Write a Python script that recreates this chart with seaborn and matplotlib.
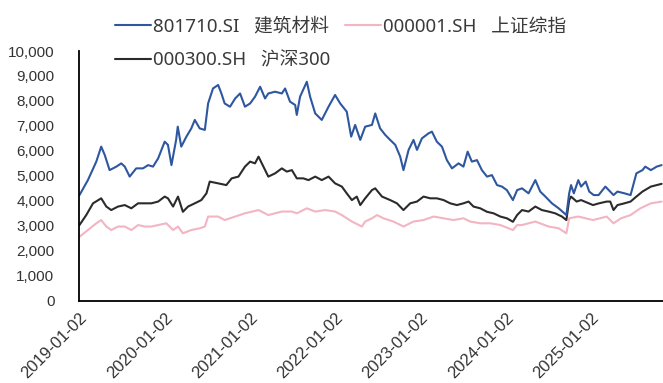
import matplotlib
matplotlib.use("Agg")
import matplotlib.pyplot as plt
from matplotlib.ticker import FuncFormatter
import pandas as pd
import seaborn as sns

# ---- series: 801710.SI 建筑材料 ----
bm_dates = [
    "2019-01-02", "2019-02-07", "2019-03-15", "2019-04-05", "2019-04-20", "2019-05-11",
    "2019-06-09", "2019-06-30", "2019-07-15", "2019-08-05", "2019-09-02", "2019-10-01",
    "2019-10-23", "2019-11-13", "2019-12-05", "2020-01-02", "2020-01-16", "2020-01-31",
    "2020-02-20", "2020-02-27", "2020-03-13", "2020-04-04", "2020-04-25", "2020-05-10",
    "2020-05-31", "2020-06-22", "2020-07-06", "2020-07-27", "2020-08-18", "2020-09-01",
    "2020-09-15", "2020-10-08", "2020-10-30", "2020-11-20", "2020-12-11", "2021-01-02",
    "2021-01-23", "2021-02-14", "2021-03-07", "2021-03-21", "2021-04-19", "2021-05-18",
    "2021-06-01", "2021-06-22", "2021-07-14", "2021-07-21", "2021-08-04", "2021-09-02",
    "2021-09-16", "2021-10-08", "2021-11-05", "2021-12-04", "2022-01-01", "2022-01-23",
    "2022-02-20", "2022-03-11", "2022-03-28", "2022-04-19", "2022-05-10", "2022-06-08",
    "2022-06-22", "2022-07-13", "2022-08-04", "2022-08-25", "2022-09-16", "2022-10-07",
    "2022-10-21", "2022-11-12", "2022-12-03", "2022-12-18", "2023-01-08", "2023-02-05",
    "2023-02-20", "2023-03-13", "2023-04-04", "2023-04-25", "2023-05-17", "2023-06-14",
    "2023-07-05", "2023-07-23", "2023-08-10", "2023-09-01", "2023-09-22", "2023-10-14",
    "2023-11-04", "2023-11-26", "2023-12-17", "2024-01-07", "2024-02-02", "2024-02-20",
    "2024-03-12", "2024-04-09", "2024-05-08", "2024-05-29", "2024-06-20", "2024-07-18",
    "2024-08-16", "2024-09-18", "2024-09-30", "2024-10-08", "2024-10-20", "2024-11-08",
    "2024-11-20", "2024-12-10", "2024-12-25", "2025-01-13", "2025-02-03", "2025-03-04",
    "2025-04-08", "2025-04-25", "2025-05-25", "2025-06-20", "2025-07-15", "2025-08-10",
    "2025-08-22", "2025-09-15", "2025-10-10", "2025-10-31",
]
bm_vals = [
    4230, 4830, 5570, 6170, 5840, 5230,
    5370, 5500, 5370, 4970, 5300, 5300,
    5430, 5370, 5700, 6370, 6240, 5430,
    6440, 6970, 6170, 6570, 6900, 7240,
    6900, 6840, 7900, 8500, 8640, 8300,
    7900, 7770, 8100, 8300, 7770, 7900,
    8170, 8570, 8100, 8300, 8370, 8300,
    8500, 7970, 7840, 7440, 8170, 8770,
    8170, 7500, 7240, 7770, 8240, 7900,
    7570, 6570, 7040, 6440, 6970, 7040,
    7500, 6900, 6640, 6440, 6240, 5770,
    5230, 6040, 6440, 6040, 6500, 6700,
    6770, 6370, 6170, 5630, 5300, 5500,
    5370, 5970, 5570, 5630, 5230, 4970,
    5030, 4630, 4570, 4430, 4030, 4430,
    4500, 4300, 4830, 4370, 4170, 3900,
    3700, 3430, 4300, 4630, 4300, 4830,
    4570, 4770, 4370, 4230, 4230, 4570,
    4230, 4370, 4300, 4230, 5100, 5230,
    5370, 5230, 5370, 5430,
]

# ---- series: 000300.SH 沪深300 ----
hs_dates = [
    "2019-01-02", "2019-01-31", "2019-03-01", "2019-04-05", "2019-04-27", "2019-05-18",
    "2019-06-16", "2019-07-15", "2019-08-12", "2019-09-10", "2019-10-09", "2019-11-06",
    "2019-12-05", "2020-01-02", "2020-01-16", "2020-02-07", "2020-02-28", "2020-03-20",
    "2020-04-11", "2020-05-10", "2020-06-07", "2020-06-29", "2020-07-13", "2020-08-18",
    "2020-09-22", "2020-10-15", "2020-11-13", "2020-12-11", "2021-01-02", "2021-01-23",
    "2021-02-07", "2021-02-28", "2021-03-21", "2021-04-19", "2021-05-18", "2021-06-08",
    "2021-06-30", "2021-07-21", "2021-08-18", "2021-09-09", "2021-10-08", "2021-11-05",
    "2021-12-04", "2022-01-01", "2022-01-30", "2022-02-20", "2022-03-14", "2022-04-04",
    "2022-04-19", "2022-05-10", "2022-06-08", "2022-06-22", "2022-07-21", "2022-08-25",
    "2022-09-23", "2022-10-21", "2022-11-19", "2022-12-18", "2023-01-15", "2023-02-13",
    "2023-03-13", "2023-04-11", "2023-05-09", "2023-06-07", "2023-07-05", "2023-07-27",
    "2023-08-17", "2023-09-15", "2023-10-14", "2023-11-11", "2023-12-10", "2024-01-07",
    "2024-02-02", "2024-02-20", "2024-03-12", "2024-04-09", "2024-05-08", "2024-06-05",
    "2024-07-04", "2024-08-01", "2024-08-30", "2024-09-18", "2024-09-30", "2024-10-08",
    "2024-11-01", "2024-11-20", "2025-01-10", "2025-02-05", "2025-03-10", "2025-03-25",
    "2025-04-08", "2025-04-25", "2025-05-25", "2025-06-20", "2025-07-15", "2025-08-10",
    "2025-09-15", "2025-10-10", "2025-10-31",
]
hs_vals = [
    3030, 3430, 3900, 4100, 3770, 3630,
    3770, 3830, 3700, 3900, 3900, 3900,
    3970, 4170, 4100, 3770, 4170, 3560,
    3770, 3900, 4030, 4300, 4770, 4700,
    4630, 4900, 4970, 5370, 5570, 5500,
    5770, 5370, 4970, 5100, 5300, 5170,
    5230, 4900, 4900, 4830, 4970, 4830,
    4970, 4700, 4570, 4300, 4030, 4170,
    3830, 4100, 4430, 4500, 4170, 4030,
    3900, 3630, 3900, 3970, 4170, 4100,
    4100, 4030, 3900, 3830, 3900, 3970,
    3770, 3700, 3560, 3500, 3370, 3300,
    3160, 3430, 3630, 3570, 3770, 3630,
    3570, 3500, 3370, 3230, 4030, 4170,
    3970, 4030, 3830, 3900, 3970, 3970,
    3630, 3830, 3900, 3970, 4170, 4370,
    4570, 4630, 4680,
]

# ---- series: 000001.SH 上证综指 ----
sh_dates = [
    "2019-01-02", "2019-02-07", "2019-03-15", "2019-04-05", "2019-04-27", "2019-05-18",
    "2019-06-16", "2019-07-15", "2019-08-12", "2019-09-10", "2019-10-09", "2019-11-06",
    "2019-12-05", "2020-01-09", "2020-02-07", "2020-02-28", "2020-03-20", "2020-04-25",
    "2020-05-31", "2020-06-22", "2020-07-06", "2020-08-18", "2020-09-15", "2020-10-30",
    "2020-12-11", "2021-02-07", "2021-03-21", "2021-05-18", "2021-06-30", "2021-07-21",
    "2021-09-02", "2021-10-08", "2021-11-19", "2022-01-01", "2022-01-30", "2022-03-14",
    "2022-04-26", "2022-05-10", "2022-06-08", "2022-06-30", "2022-07-27", "2022-09-08",
    "2022-10-21", "2022-12-03", "2023-01-15", "2023-02-27", "2023-04-11", "2023-05-23",
    "2023-07-05", "2023-08-03", "2023-09-15", "2023-10-28", "2023-12-10", "2024-02-02",
    "2024-02-20", "2024-03-12", "2024-05-08", "2024-07-04", "2024-08-16", "2024-09-18",
    "2024-09-30", "2024-11-08", "2025-01-10", "2025-03-10", "2025-04-08", "2025-05-10",
    "2025-06-20", "2025-08-01", "2025-09-15", "2025-10-31",
]
sh_vals = [
    2560, 2830, 3100, 3230, 2970, 2830,
    2970, 2970, 2830, 3030, 2970, 2970,
    3030, 3100, 2830, 2970, 2700, 2830,
    2900, 2970, 3370, 3370, 3230, 3370,
    3500, 3630, 3430, 3570, 3570, 3500,
    3700, 3570, 3630, 3570, 3430, 3170,
    2970, 3170, 3300, 3430, 3300, 3170,
    2970, 3170, 3230, 3370, 3300, 3230,
    3300, 3170, 3100, 3100, 3030, 2830,
    3030, 3030, 3170, 2970, 2900, 2700,
    3300, 3370, 3230, 3370, 3100, 3300,
    3430, 3700, 3900, 3970,
]

series_names = ["801710.SI   建筑材料", "000300.SH   沪深300", "000001.SH   上证综指"]
series_colors = ["#2E57A0", "#2B2B2B", "#F2B5C1"]
tick_dates = ["2019-01-02", "2020-01-02", "2021-01-02", "2022-01-02",
              "2023-01-02", "2024-01-02", "2025-01-02"]

sns.set_style("white")
plt.rcParams["font.family"] = ["Liberation Sans", "Noto Sans CJK SC"]

fig = plt.figure(figsize=(6.63, 3.83), dpi=100)
ax = fig.add_axes([0.1199, 0.2149, 0.8801, 0.6519])

all_series = [(bm_dates, bm_vals), (hs_dates, hs_vals), (sh_dates, sh_vals)]
# draw the pink index first so the darker lines sit on top
for idx in (2, 1, 0):
    d, v = all_series[idx]
    sns.lineplot(x=pd.to_datetime(d), y=v, ax=ax, color=series_colors[idx],
                 linewidth=1.5, label=series_names[idx], sort=False)

ax.set_xlim(pd.Timestamp("2019-01-02"), pd.Timestamp("2025-11-06"))
ax.set_ylim(0, 10000)
ax.set_yticks(range(0, 10001, 1000))
ax.yaxis.set_major_formatter(FuncFormatter(lambda v, p: f"{int(v):,}"))
ax.set_xticks(pd.to_datetime(tick_dates))
ax.set_xticklabels(tick_dates, rotation=45, ha="right", rotation_mode="anchor")
ax.set_xlabel("")
ax.set_ylabel("")

for side in ("top", "right"):
    ax.spines[side].set_visible(False)
for side in ("left", "bottom"):
    ax.spines[side].set_color("black")
    ax.spines[side].set_linewidth(1.3)

ax.tick_params(axis="both", direction="out", length=4, width=1.2, color="black",
               labelsize=11, labelcolor="#333333")
ax.tick_params(axis="x", labelsize=12, pad=3)
ax.tick_params(axis="y", pad=14)

lines = {ln.get_label(): ln for ln in ax.get_lines()}
ax.get_legend().remove()
order = [series_names[0], series_names[1], series_names[2]]
fig.legend(handles=[lines[n] for n in order], labels=order, ncol=2,
           loc="upper left", bbox_to_anchor=(115 / 663, 1 - 18 / 383),
           frameon=False,
           prop={"family": ["Noto Sans", "Noto Sans CJK SC"], "size": 13.5},
           handlelength=1.9, handletextpad=0.12, columnspacing=0.8,
           labelspacing=0.82, borderpad=0, borderaxespad=0, labelcolor="#3a3a3a")

fig.savefig("out.png", dpi=100)
